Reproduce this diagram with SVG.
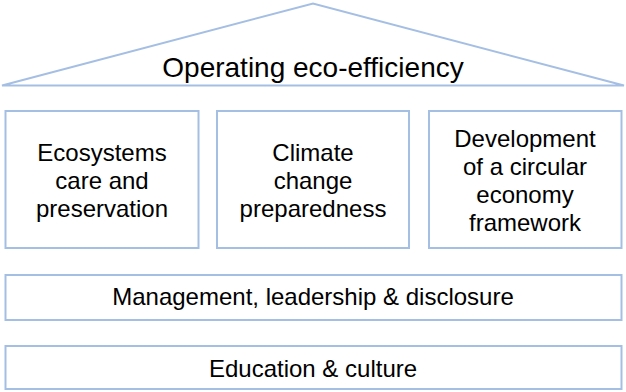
<svg xmlns="http://www.w3.org/2000/svg" width="626" height="392" viewBox="0 0 626 392">
<style>
.s{fill:#fff;stroke:#a4bfe3;stroke-width:2}
.t{font-family:"Liberation Sans",Arial,sans-serif;font-size:24px;fill:#000;text-anchor:middle}
</style>
<rect width="626" height="392" fill="#fff"/>
<g id="roof">
<polygon class="s" points="2,85.5 313,3.5 624,85.5" stroke-width="1.8"/>
<text class="t" x="313" y="77" style="font-size:28px">Operating eco-efficiency</text>
</g>
<g id="ecosystems">
<rect class="s" x="5.5" y="111" width="193" height="137"/>
<text class="t" x="102" y="161">Ecosystems</text>
<text class="t" x="102" y="189">care and</text>
<text class="t" x="102" y="217">preservation</text>
</g>
<g id="climate">
<rect class="s" x="217" y="111" width="192" height="137"/>
<text class="t" x="313" y="161">Climate</text>
<text class="t" x="313" y="189">change</text>
<text class="t" x="313" y="217">preparedness</text>
</g>
<g id="circular">
<rect class="s" x="429" y="111" width="192.5" height="137"/>
<text class="t" x="525" y="147">Development</text>
<text class="t" x="525" y="175">of a circular</text>
<text class="t" x="525" y="203">economy</text>
<text class="t" x="525" y="231">framework</text>
</g>
<g id="management">
<rect class="s" x="5.5" y="275" width="616" height="45"/>
<text class="t" x="313" y="305">Management, leadership &amp; disclosure</text>
</g>
<g id="education">
<rect class="s" x="5.5" y="346" width="616" height="43"/>
<text class="t" x="313" y="377">Education &amp; culture</text>
</g>
<g id="connectors"/>
</svg>
